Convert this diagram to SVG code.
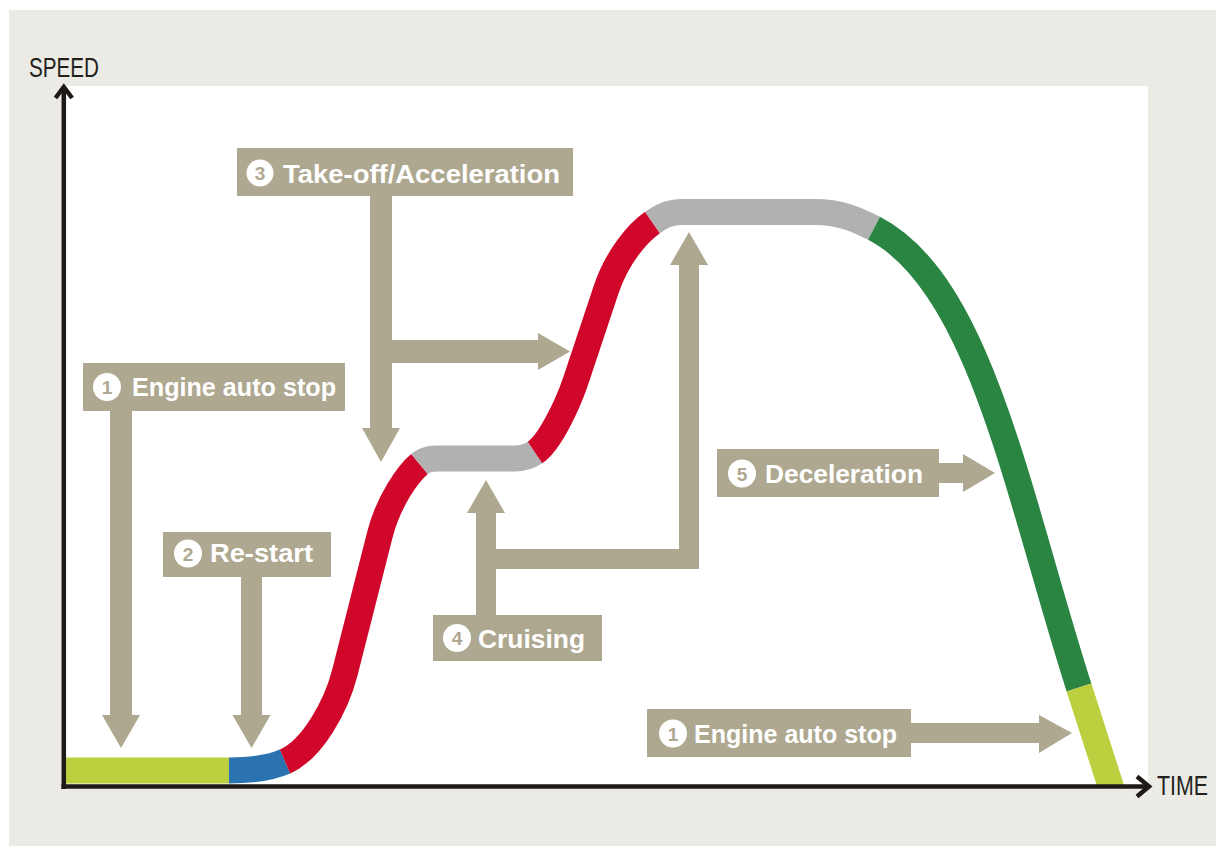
<svg xmlns="http://www.w3.org/2000/svg" width="1216" height="847" viewBox="0 0 1216 847">
<style>
.box{fill:#AFA890}
.lbl{font-family:"Liberation Sans",Arial,sans-serif;font-weight:bold;font-size:26px;fill:#FFFFFF}
.num{font-family:"Liberation Sans",Arial,sans-serif;font-weight:bold;font-size:19px;fill:#AFA890;text-anchor:middle}
.dot{fill:#FFFFFF}
.conn{fill:#AFA890}
.ax{font-family:"Liberation Sans",Arial,sans-serif;font-size:27px;fill:#231F1C}
.seg{fill:none;stroke-width:26;stroke-linecap:butt;stroke-linejoin:round}
.axis{fill:none;stroke:#1E1A17;stroke-width:4.5}
</style>
<rect x="0" y="0" width="1216" height="847" fill="#FFFFFF"/>
<rect x="9" y="10" width="1207" height="836" fill="#EBEAE5"/>
<rect x="63" y="86" width="1085" height="699" fill="#FFFFFF"/>

<g id="speed-curve">
<path class="seg" stroke="#BCCF3E" d="M64,770.5 H229"/>
<path class="seg" stroke="#2A72B0" d="M229,770.5 C250,770.5 268,768.9 285,761.5"/>
<path class="seg" stroke="#D0072A" d="M285,761.5 C312.5,749.5 336.4,705.9 345,672 L379.8,535 C388.4,501.1 408,473.6 419.5,464"/>
<path class="seg" stroke="#B1B1B1" d="M419.5,464 C426,458.6 432,458.5 440,458.5 H515 C523,458.5 529,456.5 535,452.5"/>
<path class="seg" stroke="#D0072A" d="M535,452.5 C550,442.5 568.1,403.7 576,380 L606,290 C617.1,256.8 637.7,232.8 652.5,222.5"/>
<path class="seg" stroke="#B1B1B1" d="M652.5,222.5 C662.4,215.7 670,212 682,212 H815 C840,212 857,219.6 874,228.3"/>
<path class="seg" stroke="#2A8543" d="M874,228.3 C980.7,283.3 1018,497 1079,687.5"/>
<polygon fill="#BCCF3E" points="1066.6,691.5 1091.4,683.5 1124.3,786 1097,786"/>
</g>

<g id="axes">
<path class="axis" d="M63.8,88 V789"/>
<path class="axis" d="M61.5,786.5 H1148"/>
<path class="axis" d="M55.5,98 L63.8,87 L72.1,98"/>
<path class="axis" d="M1137,776.5 L1149,786.5 L1137,796.5"/>
<text class="ax" x="29" y="77" textLength="70" lengthAdjust="spacingAndGlyphs">SPEED</text>
<text class="ax" x="1157" y="795" textLength="51" lengthAdjust="spacingAndGlyphs">TIME</text>
</g>

<g id="connectors">
<rect class="conn" x="110" y="410" width="22" height="306"/>
<polygon class="conn" points="102,715 140,715 121,748"/>
<rect class="conn" x="241" y="576" width="21" height="140"/>
<polygon class="conn" points="232.5,715 270.5,715 251.5,748"/>
<rect class="conn" x="370" y="195" width="22" height="234"/>
<polygon class="conn" points="362,428 400,428 381,462"/>
<rect class="conn" x="391" y="340" width="148" height="23"/>
<polygon class="conn" points="538,333 538,370 570,351.5"/>
<rect class="conn" x="476" y="512" width="20" height="104"/>
<polygon class="conn" points="467,513 505,513 486,480"/>
<rect class="conn" x="495" y="549" width="204" height="20"/>
<rect class="conn" x="679" y="264" width="20" height="305"/>
<polygon class="conn" points="670,265 708,265 689,232"/>
<rect class="conn" x="938" y="463" width="26" height="20"/>
<polygon class="conn" points="963,454 963,492 995,473"/>
<rect class="conn" x="910" y="723" width="130" height="20"/>
<polygon class="conn" points="1039,715 1039,753 1072,733"/>
</g>

<g id="node-takeoff">
<rect class="box" x="237" y="148" width="336" height="48"/>
<circle class="dot" cx="260" cy="173" r="13.5"/>
<text class="num" x="260" y="180">3</text>
<text class="lbl" x="283" y="183" textLength="277" lengthAdjust="spacingAndGlyphs">Take-off/Acceleration</text>
</g>

<g id="node-autostop-1">
<rect class="box" x="83" y="363" width="262" height="48"/>
<circle class="dot" cx="107" cy="387" r="14"/>
<text class="num" x="107" y="394">1</text>
<text class="lbl" x="132" y="396" textLength="204" lengthAdjust="spacingAndGlyphs">Engine auto stop</text>
</g>

<g id="node-restart">
<rect class="box" x="163" y="532" width="168" height="45"/>
<circle class="dot" cx="188" cy="553.5" r="14"/>
<text class="num" x="188" y="560.5">2</text>
<text class="lbl" x="210" y="562" textLength="103" lengthAdjust="spacingAndGlyphs">Re-start</text>
</g>

<g id="node-cruising">
<rect class="box" x="433" y="615" width="169" height="46"/>
<circle class="dot" cx="457" cy="638" r="14"/>
<text class="num" x="457" y="645">4</text>
<text class="lbl" x="478" y="648" textLength="107" lengthAdjust="spacingAndGlyphs">Cruising</text>
</g>

<g id="node-deceleration">
<rect class="box" x="717" y="449" width="222" height="48"/>
<circle class="dot" cx="742" cy="473.5" r="14"/>
<text class="num" x="742" y="480.5">5</text>
<text class="lbl" x="765" y="483" textLength="158" lengthAdjust="spacingAndGlyphs">Deceleration</text>
</g>

<g id="node-autostop-2">
<rect class="box" x="647" y="709" width="264" height="48"/>
<circle class="dot" cx="673" cy="733.5" r="14"/>
<text class="num" x="673" y="740.5">1</text>
<text class="lbl" x="694" y="743" textLength="203" lengthAdjust="spacingAndGlyphs">Engine auto stop</text>
</g>
</svg>
